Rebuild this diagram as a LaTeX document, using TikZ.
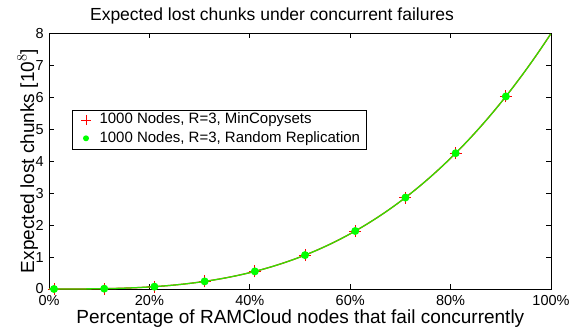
\documentclass[tikz,border=0pt]{standalone}
\usepackage{fontspec}
\setmainfont{Liberation Sans}
\begin{document}
\begin{tikzpicture}[x=1bp,y=1bp,
  ticklab/.style={inner sep=0pt,font=\fontsize{14.5bp}{16bp}\selectfont},
  labtxt/.style={inner sep=0pt,font=\fontsize{19bp}{22bp}\selectfont},
  legtxt/.style={inner sep=0pt,anchor=west,font=\fontsize{15bp}{17bp}\selectfont},
  redline/.style={draw={rgb,1:red,1;green,0;blue,0},line width=1.2bp},
  greenline/.style={draw={rgb,1:red,0.2;green,0.88;blue,0},line width=1.3bp},
  plusmark/.style={draw={rgb,1:red,1;green,0;blue,0},line width=1bp},
  dotmark/.style={fill={rgb,1:red,0;green,1;blue,0}}]
\useasboundingbox (0,0) rectangle (576,328);
\fill[white] (0,0) rectangle (576,328);
% title and axis labels
\node[labtxt,anchor=base,font=\fontsize{17.5bp}{20bp}\selectfont] (title) at (272,307.3) {Expected lost chunks under concurrent failures};
\node[labtxt,anchor=base] (xlab) at (300.4,4.7) {Percentage of RAMCloud nodes that fail concurrently};
\node[labtxt,anchor=base,rotate=90] (ylab) at (34,167) {Expected lost chunks [10$^{8}$]};
% axes box
\begin{scope}[shift={(49,39)},x=502bp,y=31.9375bp]
  \draw[line width=0.9bp] (0,0) rectangle (1,8);
  \foreach \i in {0,0.2,0.4,0.6,0.8,1} {
    \draw[line width=0.8bp] (\i,0) -- ++(0,5bp);
    \draw[line width=0.8bp] (\i,8) -- ++(0,-5bp);
  }
  \foreach \j in {0,...,8} {
    \draw[line width=0.8bp] (0,\j) -- ++(5bp,0);
    \draw[line width=0.8bp] (1,\j) -- ++(-5bp,0);
    \node[ticklab,anchor=east] (yt\j) at ([xshift=-5bp]0,\j) {\j};
  }
  \foreach \i/\t in {0/0\%,0.2/20\%,0.4/40\%,0.6/60\%,0.8/80\%,1/100\%} {
    \node[ticklab,anchor=base] at ([yshift=-16.3bp]\i,0) {\t};
  }
  % curves
  \draw[redline] plot[domain=0:1,samples=80,smooth] (\x,{8*\x*\x*\x});
  \foreach \p in {0.01,0.11,...,0.92} {
    \draw[plusmark] ([xshift=-6bp]\p,{8*\p*\p*\p}) -- ([xshift=6bp]\p,{8*\p*\p*\p});
    \draw[plusmark] ([yshift=-6bp]\p,{8*\p*\p*\p}) -- ([yshift=6bp]\p,{8*\p*\p*\p});
  }
  \draw[greenline] plot[domain=0:1,samples=80,smooth] (\x,{8*\x*\x*\x});
  \foreach \p in {0.01,0.11,...,0.92} {
    \fill[dotmark] (\p,{8*\p*\p*\p}) circle[radius=4bp];
  }
\end{scope}
% legend
\draw[fill=white,line width=0.9bp] (72.7,178.7) rectangle (366,218);
\draw[plusmark] (81,208) -- (91,208) (86,203) -- (86,213);
\fill[dotmark] (86,189.7) circle[radius=3bp];
\node[legtxt] (leg1) at (99.3,208) {1000 Nodes, R=3, MinCopysets};
\node[legtxt] (leg2) at (99.3,189.7) {1000 Nodes, R=3, Random Replication};
\end{tikzpicture}
\end{document}
